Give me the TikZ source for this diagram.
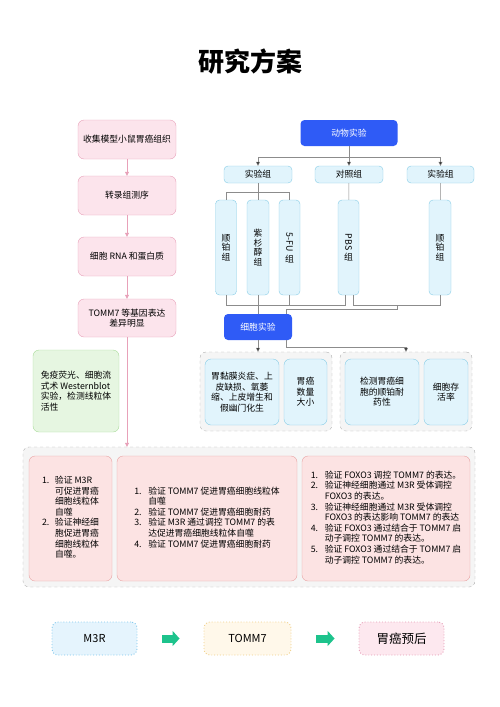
\documentclass[tikz,border=0pt]{standalone}
\usepackage{fontspec}
\setmainfont{Noto Sans CJK SC}
\usetikzlibrary{arrows.meta}

\definecolor{pinkfill}{HTML}{FCE4EC}
\definecolor{pinkline}{HTML}{E8A1B9}
\definecolor{bluefill}{HTML}{E1F4FC}
\definecolor{blueline}{HTML}{86CCE6}
\definecolor{darkblue}{HTML}{2F5BF6}
\definecolor{greenfill}{HTML}{E6F6E1}
\definecolor{greenline}{HTML}{A9DC9A}
\definecolor{salmonfill}{HTML}{FCE3E3}
\definecolor{salmonline}{HTML}{E8A3A3}
\definecolor{groupfill}{HTML}{F5F5F5}
\definecolor{groupline}{HTML}{B0B0B0}
\definecolor{linegray}{HTML}{8C8C8C}
\definecolor{arrowgreen}{HTML}{1DC38C}
\definecolor{m3rfill}{HTML}{E5F4FD}
\definecolor{m3rline}{HTML}{7DC6EC}
\definecolor{tommfill}{HTML}{FFF8EA}
\definecolor{tommline}{HTML}{F0CF88}
\definecolor{progfill}{HTML}{FDE8EF}
\definecolor{progline}{HTML}{E59CB6}

\begin{document}
\begin{tikzpicture}[x=1pt,y=-1pt,
  every node/.style={font=\fontsize{8.8}{10.5}\selectfont, inner sep=0pt, align=center},
  pinkbox/.style={draw=pinkline, fill=pinkfill, rounded corners=6pt, minimum width=98pt, minimum height=39pt},
  bluebox/.style={draw=blueline, fill=bluefill, rounded corners=4pt},
  upright/.style={bluebox, minimum height=95pt, font=\fontsize{8.8}{9.6}\selectfont},
  darkbox/.style={fill=darkblue, text=white, rounded corners=4pt, minimum width=68pt, minimum height=26pt},
  groupbox/.style={draw=groupline, fill=groupfill, dashed, rounded corners=6pt},
  aimbox/.style={draw=salmonline, fill=salmonfill, rounded corners=6pt, minimum height=125pt},
  endbox/.style={dotted, line width=0.9pt, rounded corners=6pt, minimum height=33pt},
  pinkarrow/.style={draw=pinkline, -{Triangle[length=4pt,width=4pt]}},
  grayline/.style={draw=linegray},
  grayarrow/.style={draw=linegray, -{Triangle[length=4pt,width=4pt,fill=black!80]}},
  greenarrow/.style={draw=arrowgreen, line width=8pt, -{Triangle[length=7pt,width=15pt]}, shorten <=25pt, shorten >=24pt}]
\useasboundingbox (0,0) rectangle (500,707);

\node[font=\fontsize{26}{30}\selectfont\bfseries] (title) at (250,62) {研究方案};

% left column
\node[pinkbox] (collect) at (127,139.5) {收集模型小鼠胃癌组织};
\node[pinkbox] (seq) at (127,195.5) {转录组测序};
\node[pinkbox] (rna) at (127,256.5) {细胞 RNA 和蛋白质};
\node[pinkbox, minimum height=38pt] (tomm7) at (127,318) {TOMM7 等基因表达\\差异明显};
\node[draw=greenline, fill=greenfill, rounded corners=6pt, minimum width=86pt, minimum height=82pt, align=left] (assay) at (76,391)
  {免疫荧光、细胞流\\式术 Westernblot\\实验，检测线粒体\\活性};

\path[pinkarrow] (collect) -- (seq);
\path[pinkarrow] (seq) -- (rna);
\path[pinkarrow] (rna) -- (tomm7);

% animal experiment
\node[darkbox, minimum width=97pt] (animal) at (349,133) {动物实验};
\node[bluebox, minimum width=68pt, minimum height=17pt] (exp1) at (258,174.5) {实验组};
\node[bluebox, minimum width=68pt, minimum height=17pt] (ctrl) at (349,174.5) {对照组};
\node[bluebox, minimum width=67pt, minimum height=17pt] (exp2) at (440.5,174.5) {实验组};

\node[upright, minimum width=21pt] (cis1) at (226,247.5) {顺\\铂\\组};
\node[upright, minimum width=22pt] (tax) at (258,247.5) {紫\\杉\\醇\\组};
\node[upright, minimum width=21pt] (fu) at (289.5,247.5) {\rotatebox{-90}{5-FU}\\[2pt]组};
\node[upright, minimum width=21pt] (pbs) at (348.5,247.5) {\rotatebox{-90}{PBS}\\[2pt]组};
\node[upright, minimum width=22pt] (cis2) at (440,247.5) {顺\\铂\\组};

\coordinate (ajoin) at (349,157);
\path[grayline] (animal) -- (ajoin);
\path[grayarrow] (ajoin) -| (exp1);
\path[grayarrow] (ajoin) -- (ctrl);
\path[grayarrow] (ajoin) -| (exp2);

\coordinate (sjoin) at (258,192);
\path[grayline] (exp1) -- (sjoin);
\path[grayline] (sjoin) -| (cis1);
\path[grayline] (sjoin) -- (tax);
\path[grayline] (sjoin) -| (fu);
\path[grayline] (ctrl) -- (pbs);
\path[grayline] (exp2) -- (cis2);

% cell experiment
\node[darkbox] (cell) at (258,327) {细胞实验};

\coordinate (rmid) at (397,305);
\path[grayline] (cis1.south) -- ++(0,10) -| ([xshift=-3.5pt]pbs.south);
\path[grayline] (fu.south) -- ++(0,10);
\path[grayline] (tax) -- (cell);
\path[grayline] ([xshift=4.5pt]pbs.south) -- ++(0,10) -| (cis2.south);
\path[grayline] (rmid) -- ++(0,4) -| ([xshift=28pt]cell.north);

\node[groupbox, minimum width=132pt, minimum height=79pt] (grpL) at (266,391.5) {};
\node[groupbox, minimum width=132pt, minimum height=79pt] (grpR) at (406,391.5) {};
\node[bluebox, rounded corners=6pt, minimum width=74pt, minimum height=66pt] (lesion) at (242,392) {胃黏膜炎症、上\\皮缺损、氧萎\\缩、上皮增生和\\假幽门化生};
\node[bluebox, rounded corners=6pt, minimum width=43pt, minimum height=66pt] (count) at (305.5,392) {胃癌\\数量\\大小};
\node[bluebox, rounded corners=6pt, minimum width=74pt, minimum height=66pt] (resist) at (382,392) {检测胃癌细\\胞的顺铂耐\\药性};
\node[bluebox, rounded corners=6pt, minimum width=44pt, minimum height=66pt] (viab) at (446,392) {细胞存\\活率};

\path[grayarrow] (cell) -- (cell.south |- grpL.north);
\path[grayarrow] ([xshift=28pt]cell.south) -- ++(0,7) -| (grpR.north);

% aims
\node[groupbox, minimum width=452pt, minimum height=140pt] (aims) at (249,517) {};
\path[pinkarrow] (tomm7) -- (tomm7.south |- aims.north);

\node[aimbox, minimum width=83pt] (aim1) at (70.5,518.5) {%
  \begin{tabular}{@{}p{13pt}@{}l@{}}
  1. & 验证 M3R\\ & 可促进胃癌\\ & 细胞线粒体\\ & 自噬\\
  2. & 验证神经细\\ & 胞促进胃癌\\ & 细胞线粒体\\ & 自噬。
  \end{tabular}};
\node[aimbox, minimum width=180pt] (aim2) at (207,518.5) {%
  \begin{tabular}{@{}p{14pt}@{}l@{}}
  1. & 验证 TOMM7 促进胃癌细胞线粒体\\ & 自噬\\
  2. & 验证 TOMM7 促进胃癌细胞耐药\\
  3. & 验证 M3R 通过调控 TOMM7 的表\\ & 达促进胃癌细胞线粒体自噬\\
  4. & 验证 TOMM7 促进胃癌细胞耐药
  \end{tabular}};
\node[aimbox, minimum width=168pt] (aim3) at (386,518.5) {%
  \begin{tabular}{@{}p{14pt}@{}l@{}}
  1. & 验证 FOXO3 调控 TOMM7 的表达。\\
  2. & 验证神经细胞通过 M3R 受体调控\\ & FOXO3 的表达。\\
  3. & 验证神经细胞通过 M3R 受体调控\\ & FOXO3 的表达影响 TOMM7 的表达\\
  4. & 验证 FOXO3 通过结合于 TOMM7 启\\ & 动子调控 TOMM7 的表达。\\
  5. & 验证 FOXO3 通过结合于 TOMM7 启\\ & 动子调控 TOMM7 的表达。
  \end{tabular}};

% bottom row
\node[endbox, draw=m3rline, fill=m3rfill, minimum width=85pt, font=\fontsize{11}{13}\selectfont] (m3r) at (94.5,638.5) {M3R};
\node[endbox, draw=tommline, fill=tommfill, minimum width=87pt, font=\fontsize{11}{13}\selectfont] (tomm) at (247.5,638.5) {TOMM7};
\node[endbox, draw=progline, fill=progfill, minimum width=85pt, font=\fontsize{12.5}{14}\selectfont] (prog) at (401.5,638.5) {胃癌预后};

\path[greenarrow] (m3r) -- (tomm);
\path[greenarrow] (tomm) -- (prog);
\end{tikzpicture}
\end{document}
